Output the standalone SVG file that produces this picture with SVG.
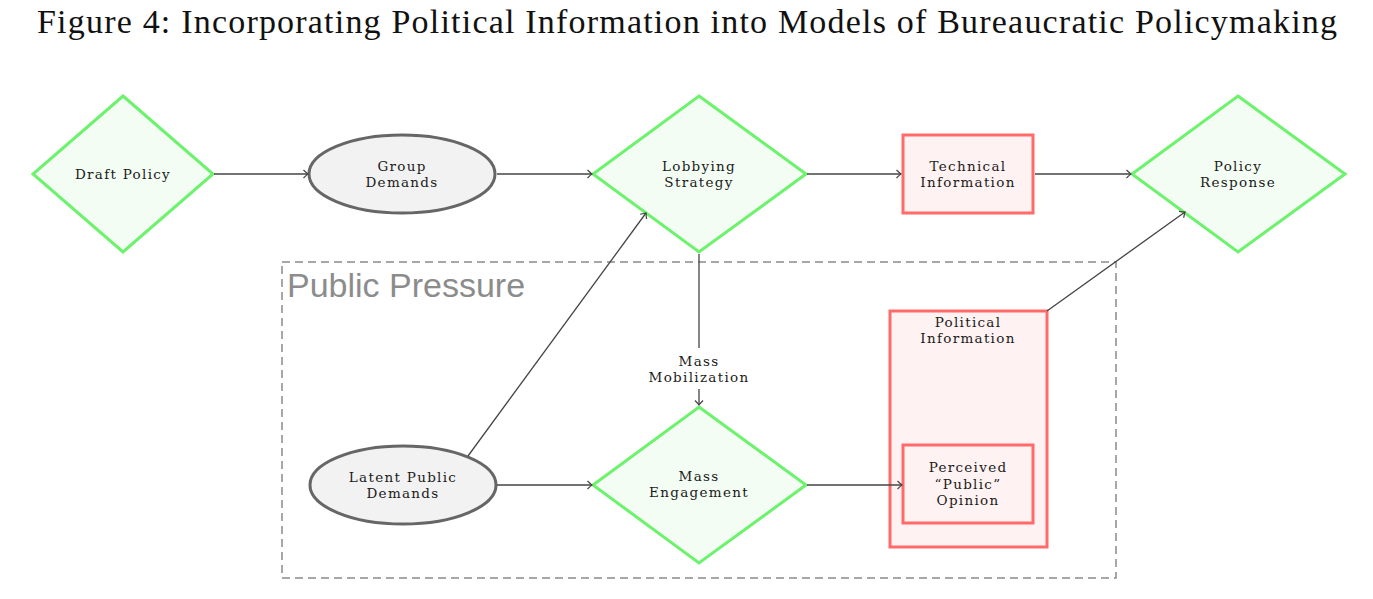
<svg xmlns="http://www.w3.org/2000/svg" width="1373" height="599" viewBox="0 0 1373 599">
<style>
.dia{fill:#f3fdf3;stroke:#6cf26c;stroke-width:3}
.ell{fill:#f2f2f2;stroke:#666;stroke-width:3}
.box{fill:#fff2f2;stroke:#ff6b6b;stroke-width:3}
.t{font-family:"DejaVu Serif","Liberation Serif",serif;font-size:13.5px;letter-spacing:1.3px;fill:#1a1a1a;text-anchor:middle}
.c{fill:none;stroke:#444;stroke-width:1.3}
</style>
<defs>
<marker id="ah" markerUnits="userSpaceOnUse" markerWidth="12" markerHeight="12" viewBox="-6 -6 12 12" refX="0" refY="0" orient="auto">
<path d="M-4.5,-4 Q-1.2,-0.8 0,0 Q-1.2,0.8 -4.5,4" fill="none" stroke="#444" stroke-width="1.2"/>
</marker>
</defs>
<rect width="1373" height="599" fill="#fff"/>
<text x="687" y="33" font-family="'Liberation Serif',serif" font-size="34" fill="#111" text-anchor="middle" textLength="1300" lengthAdjust="spacing">Figure 4: Incorporating Political Information into Models of Bureaucratic Policymaking</text>

<g id="public-pressure">
<rect x="282" y="262" width="834" height="316" fill="none" stroke="#8a8a8a" stroke-width="1.5" stroke-dasharray="8,5"/>
<text x="287" y="297" font-family="'Liberation Sans',Arial,sans-serif" font-size="34" fill="#8c8c8c">Public Pressure</text>
</g>

<g id="draft-policy">
<polygon class="dia" points="123,96 213,174 123,252 33,174"/>
<text class="t" x="123" y="179">Draft Policy</text>
</g>
<g id="group-demands">
<ellipse class="ell" cx="402" cy="174" rx="93" ry="39"/>
<text class="t" x="402" y="171">Group</text>
<text class="t" x="402" y="187">Demands</text>
</g>
<g id="lobbying-strategy">
<polygon class="dia" points="699,96 806,174 699,252 593,174"/>
<text class="t" x="699" y="171">Lobbying</text>
<text class="t" x="699" y="187">Strategy</text>
</g>
<g id="technical-information">
<rect class="box" x="903" y="135" width="130" height="78"/>
<text class="t" x="968" y="171">Technical</text>
<text class="t" x="968" y="187">Information</text>
</g>
<g id="policy-response">
<polygon class="dia" points="1238,96 1345,174 1238,252 1132,174"/>
<text class="t" x="1238" y="171">Policy</text>
<text class="t" x="1238" y="187">Response</text>
</g>
<g id="latent-public-demands">
<ellipse class="ell" cx="403" cy="485" rx="93" ry="39"/>
<text class="t" x="403" y="482">Latent Public</text>
<text class="t" x="403" y="498">Demands</text>
</g>
<g id="mass-engagement">
<polygon class="dia" points="699,407 806,485 699,563 593,485"/>
<text class="t" x="699" y="481">Mass</text>
<text class="t" x="699" y="497">Engagement</text>
</g>
<g id="political-information">
<rect class="box" x="890" y="311" width="157" height="236"/>
<text class="t" x="968" y="327">Political</text>
<text class="t" x="968" y="343">Information</text>
</g>
<g id="perceived-public-opinion">
<rect class="box" x="903" y="445" width="130" height="78"/>
<text class="t" x="968" y="472">Perceived</text>
<text class="t" x="968" y="489">“Public”</text>
<text class="t" x="968" y="505">Opinion</text>
</g>

<g id="connectors">
<line class="c" x1="214" y1="174" x2="308" y2="174" marker-end="url(#ah)"/>
<line class="c" x1="497" y1="174" x2="592" y2="174" marker-end="url(#ah)"/>
<line class="c" x1="807" y1="174" x2="901" y2="174" marker-end="url(#ah)"/>
<line class="c" x1="1035" y1="174" x2="1131" y2="174" marker-end="url(#ah)"/>
<line class="c" x1="468" y1="456" x2="646" y2="213" marker-end="url(#ah)"/>
<line class="c" x1="1047" y1="311" x2="1185" y2="212" marker-end="url(#ah)"/>
<line class="c" x1="699" y1="254" x2="699" y2="348"/>
<line class="c" x1="699" y1="389" x2="699" y2="405" marker-end="url(#ah)"/>
<text class="t" x="699" y="366">Mass</text>
<text class="t" x="699" y="382">Mobilization</text>
<line class="c" x1="497" y1="485" x2="592" y2="485" marker-end="url(#ah)"/>
<line class="c" x1="807" y1="485" x2="902" y2="485" marker-end="url(#ah)"/>
</g>
</svg>
